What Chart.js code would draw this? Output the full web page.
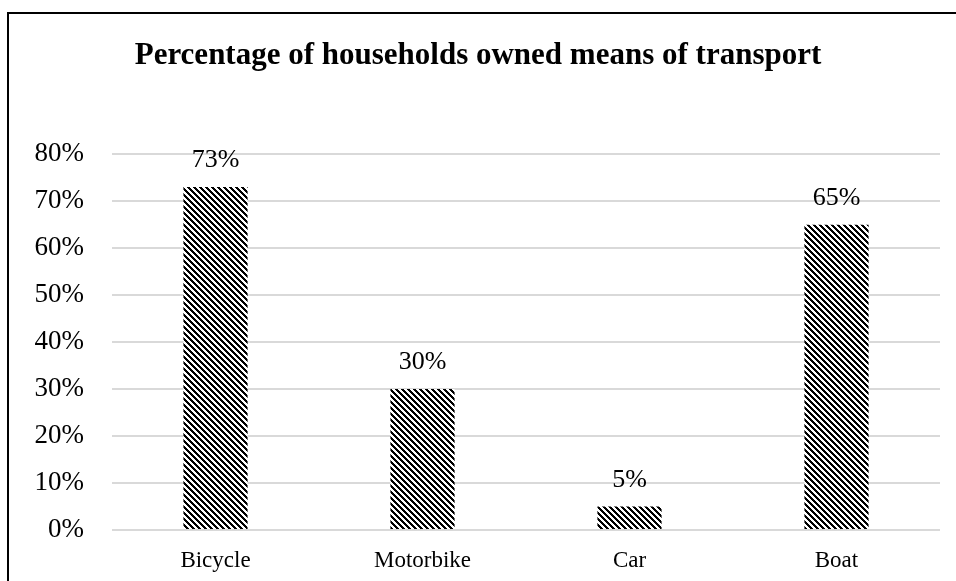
<!DOCTYPE html>
<html>
<head>
<meta charset="utf-8">
<script src="https://cdn.jsdelivr.net/npm/chart.js@4"></script>
<style>
  html, body { margin: 0; padding: 0; background: #fff; overflow: hidden; }
  #wrap { position: relative; width: 956px; height: 581px; }
  #frame {
    position: absolute; left: 7px; top: 12px; width: 1000px; height: 700px;
    border-left: 2px solid #000; border-top: 2px solid #000;
  }
  canvas { position: absolute; left: 0; top: 0; }
</style>
</head>
<body>
<div id="wrap">
  <div id="frame"></div>
  <canvas id="grafico" width="956" height="581"></canvas>
</div>
<script>
const categorias = ['Bicycle', 'Motorbike', 'Car', 'Boat'];
const percentuais = [73, 30, 5, 65];
const ticksY = [0, 10, 20, 30, 40, 50, 60, 70, 80];

const fonte = '"Liberation Serif", "Times New Roman", serif';

// textura de listras diagonais preto/branco para as barras
function listras() {
    const p = 6;
    const c = document.createElement('canvas');
    c.width = p; c.height = p;
    const g = c.getContext('2d');
    const img = g.createImageData(p, p);
    for (let y = 0; y < p; y++) {
        for (let x = 0; x < p; x++) {
            const preto = ((x - y + p * 2) % p) < 3;
            const i = (y * p + x) * 4;
            const v = preto ? 0 : 255;
            img.data[i] = v; img.data[i + 1] = v; img.data[i + 2] = v; img.data[i + 3] = 255;
        }
    }
    g.putImageData(img, 0, 0);
    return g.createPattern(c, 'repeat');
}

// rótulos de valor acima de cada barra
const rotulos = {
    id: 'rotulos',
    afterDatasetsDraw(chart) {
        const ctx = chart.ctx;
        const meta = chart.getDatasetMeta(0);
        ctx.save();
        ctx.font = '26px ' + fonte;
        ctx.fillStyle = '#000';
        ctx.textAlign = 'center';
        ctx.textBaseline = 'alphabetic';
        meta.data.forEach((bar, i) => {
            ctx.fillText(percentuais[i] + '%', bar.x, bar.y - 20);
        });
        ctx.restore();
    }
};

const ctx = document.getElementById('grafico').getContext('2d');
const grafico = new Chart(ctx, {
    type: 'bar',
    data: {
        labels: categorias,
        datasets: [{
            label: '',
            data: percentuais,
            backgroundColor: listras(),
            borderWidth: 0,
            categoryPercentage: 1,
            barPercentage: 0.31
        }]
    },
    options: {
        responsive: false,
        animation: false,
        layout: {
            padding: { left: 16, right: 16, top: 0, bottom: 0 }
        },
        plugins: {
            legend: { display: false },
            tooltip: { enabled: false },
            title: {
                display: true,
                text: 'Percentage of households owned means of transport',
                color: '#000',
                font: { family: fonte, size: 31, weight: 'bold' },
                padding: { top: 37, bottom: 80 }
            }
        },
        scales: {
            x: {
                grid: { display: false },
                border: { display: false },
                afterFit(scale) {
                    scale.height = 51; // base do gráfico em y = 530
                },
                ticks: {
                    color: '#000',
                    padding: 9,
                    font: { family: fonte, size: 23 }
                }
            },
            y: {
                min: 0,
                max: 80,
                afterBuildTicks(scale) {
                    scale.ticks = ticksY.map(v => ({ value: v }));
                },
                afterFit(scale) {
                    scale.width = 96;
                },
                grid: { color: '#d9d9d9', lineWidth: 2, drawTicks: false },
                border: { display: false },
                ticks: {
                    color: '#000',
                    padding: 28,
                    font: { family: fonte, size: 27 },
                    callback: v => v + '%'
                }
            }
        }
    },
    plugins: [rotulos]
});
</script>
</body>
</html>
